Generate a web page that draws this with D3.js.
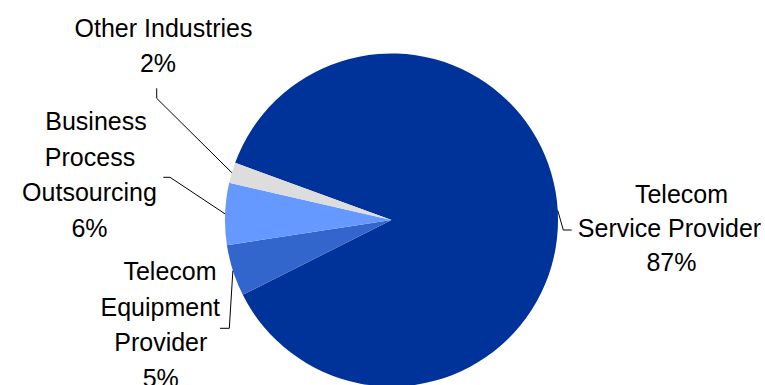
<!DOCTYPE html>
<html>
<head>
<meta charset="utf-8">
<script src="https://cdn.jsdelivr.net/npm/d3@7/dist/d3.min.js"></script>
<style>
  html, body { margin: 0; padding: 0; background: #ffffff; }
  svg { display: block; }
  text { font-family: "Liberation Sans", Arial, sans-serif; font-size: 25px; fill: #000000; }
</style>
</head>
<body>
<svg id="chart" width="765" height="385"></svg>
<script>
// Industry share of revenue
const categories = [
  "Telecom Service Provider",
  "Telecom Equipment Provider",
  "Business Process Outsourcing",
  "Other Industries"
];
const shares = [87, 5, 6, 2];
const labelLines = [
  ["Telecom", "Service Provider"],
  ["Telecom", "Equipment", "Provider"],
  ["Business", "Process", "Outsourcing"],
  ["Other Industries"]
];
const colors = ["#003399", "#3366CC", "#6699FF", "#DDDDDD"];

// Layout
const width = 765, height = 385;
const cx = 391.5, cy = 220, radius = 166.5;
const startDeg = 290.1;

// Label placement: per-line centre x, first baseline y, line gap, leader elbow points
const labelLayout = [
  { xs: [681.5, 669.5, 671.5], y: 202.7, gap: 34.3, elbow: [[563.3, 230], [571.7, 230]] },
  { xs: [170, 160.3, 160.8, 160.8], y: 280, gap: 35.6, elbow: [[229.3, 328.3], [220, 328.3]] },
  { xs: [96, 90, 89.5, 89.5], y: 130, gap: 35.5, elbow: [[170, 177.3], [163.3, 177.3]] },
  { xs: [163.5, 158], y: 37.3, gap: 35, elbow: [[156.7, 98.3], [156.7, 88.3]] }
];

const svg = d3.select("#chart");

const rad = d => d * Math.PI / 180;
const pie = d3.pie()
  .sort(null)
  .value(d => d.value)
  .startAngle(rad(startDeg))
  .endAngle(rad(startDeg + 360));

const data = categories.map((c, i) => ({ name: c, value: shares[i], i }));
const arcs = pie(data);

const arc = d3.arc().innerRadius(0).outerRadius(radius);

const g = svg.append("g").attr("transform", `translate(${cx},${cy})`);

g.selectAll("path.slice")
  .data(arcs)
  .join("path")
  .attr("class", "slice")
  .attr("d", arc)
  .attr("fill", d => colors[d.data.i]);

// Leader lines from each slice's outer midpoint to its label
const line = d3.line();
arcs.forEach(d => {
  const a = (d.startAngle + d.endAngle) / 2;
  const edge = [cx + radius * Math.sin(a), cy - radius * Math.cos(a)];
  const lay = labelLayout[d.data.i];
  svg.append("path")
    .attr("d", line([edge, ...lay.elbow]))
    .attr("fill", "none")
    .attr("stroke", "#000000")
    .attr("stroke-width", 1);
});

// Category labels with percentage on the last line
arcs.forEach(d => {
  const i = d.data.i;
  const lay = labelLayout[i];
  const lines = labelLines[i].concat([`${d.data.value}%`]);
  const t = svg.append("text").attr("text-anchor", "middle");
  lines.forEach((s, k) => {
    t.append("tspan")
      .attr("x", lay.xs[k])
      .attr("y", lay.y + k * lay.gap)
      .text(s);
  });
});
</script>
</body>
</html>
